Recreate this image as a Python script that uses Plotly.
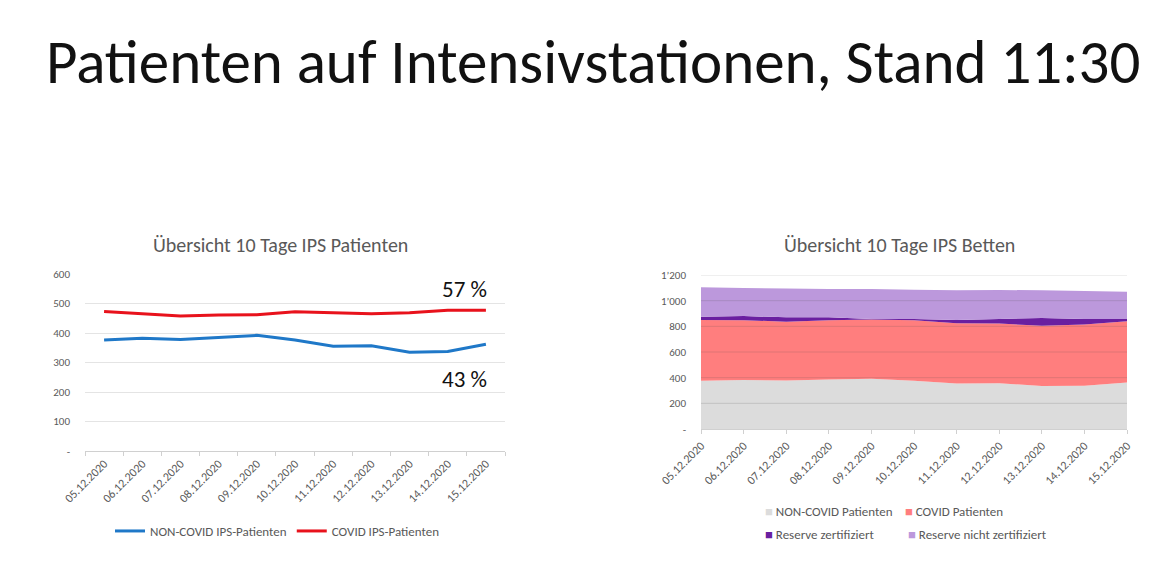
import plotly.graph_objects as go

# ---- data ----
dates = ["05.12.2020", "06.12.2020", "07.12.2020", "08.12.2020", "09.12.2020",
         "10.12.2020", "11.12.2020", "12.12.2020", "13.12.2020", "14.12.2020", "15.12.2020"]
non_covid = [376, 382, 378, 386, 392, 376, 355, 357, 335, 337, 362]
covid = [473, 466, 458, 461, 462, 472, 469, 465, 469, 477, 477]
reserve_zert = [26, 32, 34, 23, 4, 9, 26, 35, 61, 43, 18]
reserve_nicht_zert = [229, 219, 224, 221, 232, 229, 231, 226, 216, 219, 213]

left_ticks = [0, 100, 200, 300, 400, 500, 600]
left_ticktext = ["-", "100", "200", "300", "400", "500", "600"]
right_ticks = [0, 200, 400, 600, 800, 1000, 1200]
right_ticktext = ["-", "200", "400", "600", "800", "1\u2019000", "1\u2019200"]

main_title = "Patienten auf Intensivstationen, Stand 11:30"
left_title = "Übersicht 10 Tage IPS Patienten"
right_title = "Übersicht 10 Tage IPS Betten"
pct_covid = "57 %"
pct_non = "43 %"

# page body has an 8px margin -> figure is drawn at (8, 8) of the window
OFF = 8
W, H = 1173 - 2 * OFF, 584 - 2 * OFF


def px(x):
    return (x - OFF) / W


def py(y):
    return (H - (y - OFF)) / H


FONT = "Carlito, Lato, 'Open Sans', sans-serif"
GREY = "#595959"

BLUE = "#1f78c8"
RED = "#e8121c"
LGREY = "#dcdcdc"
SALMON = "#ff7e7e"
DPURPLE = "#6a1fa0"
LPURPLE = "#bc98dc"

fig = go.Figure()

# ---- left chart ----
fig.add_trace(go.Scatter(x=dates, y=non_covid, mode="lines", name="NON-COVID IPS-Patienten",
                         line=dict(color=BLUE, width=3), xaxis="x", yaxis="y", legend="legend"))
fig.add_trace(go.Scatter(x=dates, y=covid, mode="lines", name="COVID IPS-Patienten",
                         line=dict(color=RED, width=3), xaxis="x", yaxis="y", legend="legend"))

# ---- right chart (stacked areas) ----
area_series = [
    ("NON-COVID Patienten", non_covid, LGREY),
    ("COVID Patienten", covid, SALMON),
    ("Reserve zertifiziert", reserve_zert, DPURPLE),
    ("Reserve nicht zertifiziert", reserve_nicht_zert, LPURPLE),
]
for name, vals, col in area_series:
    fig.add_trace(go.Scatter(x=dates, y=vals, mode="none", stackgroup="one", fillcolor=col,
                             name=name, showlegend=False, xaxis="x2", yaxis="y2"))

# gridlines drawn above the areas (as in the reference)
for v in right_ticks[1:]:
    fig.add_shape(type="line", xref="x2 domain", yref="y2", x0=0, x1=1, y0=v, y1=v,
                  line=dict(color="rgba(80,80,80,0.18)", width=1), layer="above")

# right legend (two rows, Excel style small squares)
legend_pos = [(763, 511), (903, 511), (763, 534), (906, 534)]
for (name, vals, col), (lx, ly) in zip(area_series, legend_pos):
    fig.add_annotation(text=f"<span style='color:{col}'>\u25A0</span> {name}",
                       xref="paper", yref="paper", x=px(lx), y=py(ly),
                       xanchor="left", yanchor="middle", showarrow=False,
                       font=dict(family=FONT, size=13, color=GREY))

ytick_font = dict(family=FONT, size=11, color=GREY)
xtick_font = dict(family=FONT, size=12, color=GREY)

fig.update_layout(
    width=W, height=H,
    margin=dict(l=0, r=0, t=0, b=0, autoexpand=False),
    paper_bgcolor="white", plot_bgcolor="white",
    font=dict(family=FONT, color=GREY),
    xaxis=dict(domain=[px(85), px(505)], type="category", range=[-0.5, 10.5],
               tickangle=-45, tickfont=xtick_font, showgrid=False, automargin=False,
               showline=True, linecolor="#d0d0d0", ticks="outside", tickson="boundaries",
               ticklen=4, tickcolor="#d0d0d0", anchor="y", zeroline=False),
    yaxis=dict(domain=[py(451), py(274)], range=[0, 600], tickvals=left_ticks,
               ticktext=left_ticktext, tickfont=ytick_font, showgrid=True, gridcolor="#e4e4e4",
               zeroline=False, showline=False, anchor="x", ticks="", ticklabelstandoff=14,
               automargin=False),
    xaxis2=dict(domain=[px(701), px(1127)], type="category", range=[0, 10],
                tickangle=-45, tickfont=xtick_font, showgrid=False, automargin=False,
                showline=True, linecolor="#d0d0d0", ticks="outside", ticklen=4,
                tickcolor="#d0d0d0", anchor="y2", zeroline=False),
    yaxis2=dict(domain=[py(429), py(275)], range=[0, 1200], tickvals=right_ticks,
                ticktext=right_ticktext, tickfont=ytick_font, showgrid=True, gridcolor="#e8e8e8",
                zeroline=False, showline=False, anchor="x2", ticks="", ticklabelstandoff=14,
                automargin=False),
    legend=dict(orientation="h", x=px(110), xanchor="left", y=py(531), yanchor="middle",
                font=dict(family=FONT, size=13, color=GREY), bgcolor="rgba(0,0,0,0)",
                itemwidth=30, traceorder="normal"),
    showlegend=True,
)

fig.add_annotation(text=main_title, xref="paper", yref="paper", x=px(593), y=py(62),
                   xanchor="center", yanchor="middle", showarrow=False,
                   font=dict(family=FONT, size=61, color="#111111", weight=300))
fig.add_annotation(text=left_title, xref="paper", yref="paper", x=px(280), y=py(245),
                   xanchor="center", yanchor="middle", showarrow=False,
                   font=dict(family=FONT, size=20, color=GREY))
fig.add_annotation(text=right_title, xref="paper", yref="paper", x=px(899), y=py(245),
                   xanchor="center", yanchor="middle", showarrow=False,
                   font=dict(family=FONT, size=20, color=GREY))
fig.add_annotation(text=pct_covid, xref="paper", yref="paper", x=px(464), y=py(289),
                   xanchor="center", yanchor="middle", showarrow=False,
                   font=dict(family=FONT, size=23, color="#111111"))
fig.add_annotation(text=pct_non, xref="paper", yref="paper", x=px(464), y=py(379),
                   xanchor="center", yanchor="middle", showarrow=False,
                   font=dict(family=FONT, size=23, color="#111111"))

fig.write_html("out.html")
